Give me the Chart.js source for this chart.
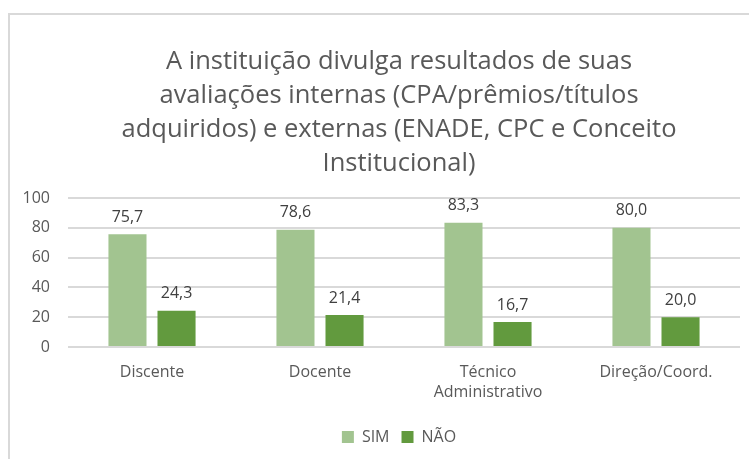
<!DOCTYPE html>
<html><head><meta charset="utf-8">
<script src="https://cdn.jsdelivr.net/npm/chart.js@4.4.0/dist/chart.umd.min.js"></script>
<style>
html,body{margin:0;padding:0;background:#fff;overflow:hidden;width:749px;height:459px;}
#frame{position:absolute;left:8px;top:13px;width:760px;height:460px;border-top:2px solid #d9d9d9;border-left:2px solid #d9d9d9;}
#wrap{position:absolute;left:0;top:0;width:798px;height:459px;}
</style></head>
<body>
<div id="frame"></div>
<div id="wrap"><canvas id="c" width="798" height="459"></canvas></div>
<script>
const categories = ['Discente', 'Docente', ['Técnico', 'Administrativo'], 'Direção/Coord.'];
const seriesNames = ['SIM', 'NÃO'];
const simValues = [75.7, 78.6, 83.3, 80.0];
const naoValues = [24.3, 21.4, 16.7, 20.0];
const yTicks = [0, 20, 40, 60, 80, 100];
const titleLines = ['A instituição divulga resultados de suas', 'avaliações internas (CPA/prêmios/títulos', 'adquiridos) e externas (ENADE, CPC e Conceito', 'Institucional)'];

const FONT = '"Open Sans", "Liberation Sans", sans-serif';
const GREY = '#595959';

const labelPlugin = {
  id: 'valLabels',
  afterDatasetsDraw(chart) {
    const ctx = chart.ctx;
    ctx.save();
    ctx.font = '16px ' + FONT;
    ctx.fillStyle = '#404040';
    ctx.textAlign = 'center';
    ctx.textBaseline = 'bottom';
    chart.data.datasets.forEach((ds, i) => {
      chart.getDatasetMeta(i).data.forEach((bar, j) => {
        ctx.fillText(ds.data[j].toFixed(1).replace('.', ','), bar.x, bar.y - 9);
      });
    });
    ctx.restore();
  }
};

new Chart(document.getElementById('c'), {
  type: 'bar',
  data: {
    labels: categories,
    datasets: [
      { label: seriesNames[0], data: simValues, backgroundColor: '#a2c490', categoryPercentage: 0.584, barPercentage: 0.776 },
      { label: seriesNames[1], data: naoValues, backgroundColor: '#629a3e', categoryPercentage: 0.584, barPercentage: 0.776 }
    ]
  },
  options: {
    responsive: false,
    animation: false,
    layout: { padding: { left: 18, right: 18, top: 0, bottom: 4 } },
    plugins: {
      title: {
        display: true,
        text: titleLines,
        color: GREY,
        font: { family: FONT, size: 25.5, weight: 'normal', lineHeight: 1.333 },
        padding: { top: 45, bottom: 17 }
      },
      legend: {
        position: 'bottom',
        labels: { color: GREY, font: { family: FONT, size: 16 }, boxWidth: 12, boxHeight: 12, padding: 12 }
      },
      tooltip: { enabled: false }
    },
    scales: {
      x: {
        afterFit: (s) => { s.height = 70; },
        grid: { display: false },
        border: { display: false },
        ticks: { color: GREY, font: { family: FONT, size: 16, lineHeight: 1.25 }, padding: 7, maxRotation: 0 }
      },
      y: {
        min: 0, max: 100,
        afterBuildTicks: (s) => { s.ticks = yTicks.map(v => ({ value: v })); },
        afterFit: (s) => { s.width = 50; },
        grid: { color: '#d9d9d9', lineWidth: 2, drawTicks: false },
        border: { display: false },
        ticks: { color: GREY, font: { family: FONT, size: 16 }, padding: 18 }
      },
      yR: {
        position: 'right',
        min: 0, max: 100,
        afterFit: (s) => { s.width = 40; },
        grid: { display: false, drawTicks: false },
        border: { display: false },
        ticks: { display: false }
      }
    }
  },
  plugins: [labelPlugin]
});
</script>
</body></html>
